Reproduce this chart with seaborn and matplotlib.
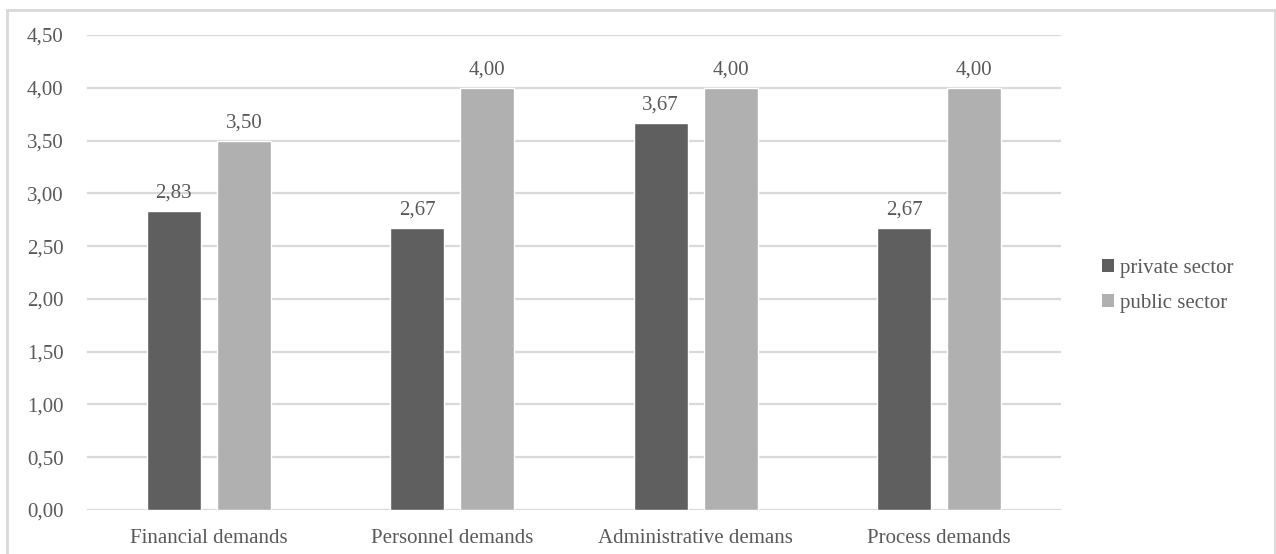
import matplotlib
matplotlib.use("Agg")
import matplotlib.pyplot as plt
import seaborn as sns
import pandas as pd
from matplotlib.patches import Rectangle, Patch

categories = ["Financial demands", "Personnel demands", "Administrative demans", "Process demands"]
private_sector = [2.83, 2.67, 3.67, 2.67]
public_sector = [3.50, 4.00, 4.00, 4.00]
series_names = ["private sector", "public sector"]
y_ticks = [0.0, 0.5, 1.0, 1.5, 2.0, 2.5, 3.0, 3.5, 4.0, 4.5]

df = pd.DataFrame({
    "category": categories * 2,
    "sector": [series_names[0]] * 4 + [series_names[1]] * 4,
    "value": private_sector + public_sector,
})

sns.set_theme(style="white")
plt.rcParams["font.family"] = ["Liberation Serif", "DejaVu Serif"]

text_color = "#595959"
grid_color = "#d9d9d9"
palette = {series_names[0]: "#5f5f5f", series_names[1]: "#b0b0b0"}
fs = 15

fig = plt.figure(figsize=(12.76, 5.54), dpi=100)
ax = fig.add_axes([87 / 1276, 1 - 510 / 554, (1061 - 87) / 1276, (510 - 35) / 554])

sns.barplot(data=df, x="category", y="value", hue="sector", order=categories,
            hue_order=series_names, palette=palette, width=0.576, gap=0.23,
            saturation=1, legend=False, ax=ax, zorder=3)

ax.set_xlim(-0.5, 3.5)
ax.set_ylim(0, 4.5)
ax.set_yticks(y_ticks)
ax.set_yticklabels([f"{v:.2f}".replace(".", ",") for v in y_ticks])
ax.set_xlabel("")
ax.set_ylabel("")
ax.yaxis.grid(True, color=grid_color, linewidth=1.6, zorder=0)
ax.set_axisbelow(True)
for s in ax.spines.values():
    s.set_visible(False)
ax.tick_params(axis="both", length=0, labelsize=fs, colors=text_color)
ax.tick_params(axis="y", pad=17)
ax.tick_params(axis="x", pad=14)

for cont in ax.containers:
    ax.bar_label(cont, labels=[f"{b.get_height():.2f}".replace(".", ",") for b in cont],
                 padding=6, fontsize=fs, color=text_color)

handles = [Patch(facecolor=palette[n], edgecolor="none", label=n) for n in series_names]
fig.legend(handles=handles, loc="center left", bbox_to_anchor=(1083 / 1276, 1 - 286 / 554),
           frameon=False, fontsize=fs, labelcolor=text_color, handlelength=0.6,
           handleheight=0.6, handletextpad=0.3, labelspacing=0.75)

# outer chart frame
fig.patches.append(Rectangle((7 / 1276, -0.05), (1275 - 7) / 1276, 1.05 - 10 / 554,
                             transform=fig.transFigure, fill=False,
                             edgecolor=grid_color, linewidth=2, zorder=10))

fig.savefig("out.png", dpi=100, facecolor="white")
